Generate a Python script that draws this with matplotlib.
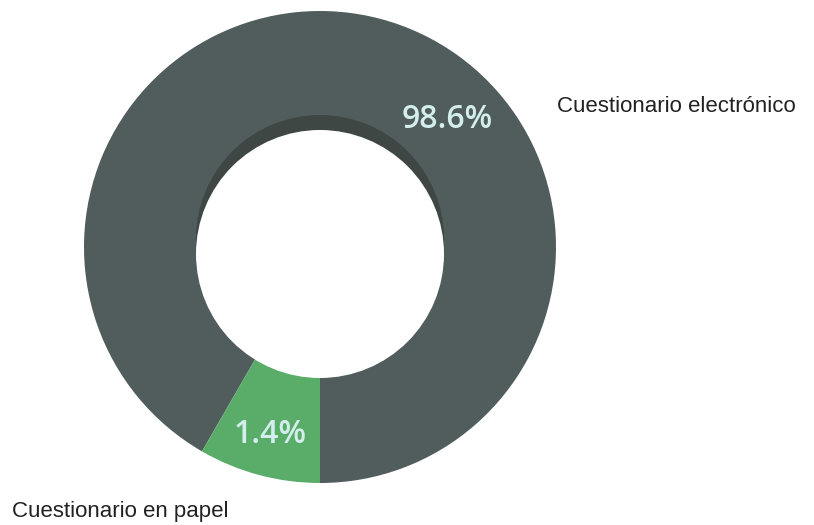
import numpy as np
from matplotlib import pyplot as plt
from matplotlib.patches import Circle

# data
categories = ["Cuestionario electrónico", "Cuestionario en papel"]
values = [98.6, 1.4]
value_labels = ["98.6%", "1.4%"]
colors = ["#505d5c", "#59ad69"]

MIN_SHARE = 30 / 360  # tiny slices are drawn at a minimum visible size

W, H = 814, 525
CX, CY = 320, H - 247
R_OUT = 236
R_HOLE = 124


def display_shares(vals, min_share):
    shares = np.asarray(vals, dtype=float) / np.sum(vals)
    small = shares < min_share
    shares[small] = min_share
    rest = 1 - shares[small].sum()
    shares[~small] = shares[~small] / shares[~small].sum() * rest
    return shares


fig = plt.figure(figsize=(W / 100, H / 100), dpi=100)
ax = fig.add_axes([0, 0, 1, 1])

shares = display_shares(values, MIN_SHARE)
wedges, _ = ax.pie(
    shares, colors=colors, startangle=-90, counterclock=True,
    center=(CX, CY), radius=R_OUT,
    wedgeprops=dict(linewidth=0),
)

# inner shadow + hole
ax.add_patch(Circle((CX, H - 239), R_HOLE, color="#3f4745", lw=0, zorder=3))
ax.add_patch(Circle((CX, H - 254), R_HOLE, color="white", lw=0, zorder=4))

# value labels inside the ring
label_pos = [(45, 180), (None, 194)]
for w, lab, (ang, r) in zip(wedges, value_labels, label_pos):
    if ang is None:
        ang = (w.theta1 + w.theta2) / 2
    x = CX + r * np.cos(np.radians(ang))
    y = CY + r * np.sin(np.radians(ang))
    ax.text(x, y, lab, ha="center", va="center", fontsize=23,
            family="Open Sans", weight="semibold", color="#d4eeee", zorder=5)

# category labels
ax.text(557, H - 107, categories[0], ha="left", va="center", fontsize=16,
        family="Liberation Sans", color="#222222")
ax.text(12, H - 511, categories[1], ha="left", va="center", fontsize=16,
        family="Liberation Sans", color="#222222")

ax.set_xlim(0, W)
ax.set_ylim(0, H)
ax.set_aspect("equal")
ax.axis("off")

fig.savefig("out.png", dpi=100)
